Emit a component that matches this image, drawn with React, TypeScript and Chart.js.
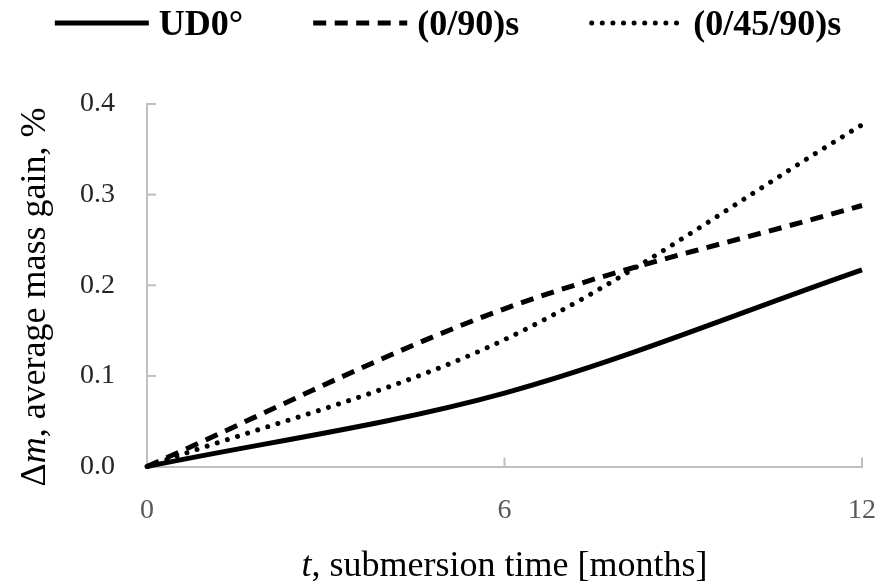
import React, { useEffect, useRef } from "react";
import { Chart, registerables } from "chart.js";

Chart.register(...registerables);

const months = [0, 6, 12];
const ud0 = [0, 0.081, 0.217];
const cp090 = [0, 0.174, 0.288];
const cp04590 = [0, 0.14, 0.377];
const seriesLabels = ["UD0°", "(0/90)s", "(0/45/90)s"];
const xTicks = [0, 6, 12];
const yTicks = [0, 0.1, 0.2, 0.3, 0.4];

const SERIF = "'Liberation Serif', 'DejaVu Serif', serif";
const AXIS_COLOR = "#bfbfbf";

const decorPlugin = {
  id: "decor",
  afterDatasetsDraw(chart: any) {
    const ctx = chart.ctx;
    const xs = chart.scales.x;
    const ys = chart.scales.y;
    const area = chart.chartArea;
    ctx.save();
    ctx.strokeStyle = AXIS_COLOR;
    ctx.lineWidth = 2;
    ctx.setLineDash([]);
    yTicks.forEach((v) => {
      if (v === 0) return;
      const y = ys.getPixelForValue(v);
      ctx.beginPath();
      ctx.moveTo(area.left, y);
      ctx.lineTo(area.left + 9, y);
      ctx.stroke();
    });
    xTicks.forEach((v) => {
      if (v === 0) return;
      const x = xs.getPixelForValue(v);
      ctx.beginPath();
      ctx.moveTo(x, area.bottom);
      ctx.lineTo(x, area.bottom - 9);
      ctx.stroke();
    });
    ctx.restore();
  },
  afterDraw(chart: any) {
    const ctx = chart.ctx;
    const area = chart.chartArea;
    ctx.save();
    ctx.fillStyle = "#000";
    ctx.textBaseline = "alphabetic";
    ctx.textAlign = "left";

    const drawSegments = (segs: [string, string][], cx: number, baseY: number) => {
      let total = 0;
      segs.forEach(([t, f]) => {
        ctx.font = f;
        total += ctx.measureText(t).width;
      });
      let x = cx - total / 2;
      segs.forEach(([t, f]) => {
        ctx.font = f;
        ctx.fillText(t, x, baseY);
        x += ctx.measureText(t).width;
      });
    };

    const normal = `36px ${SERIF}`;
    const italic = `italic 36px ${SERIF}`;

    // x title
    drawSegments(
      [
        ["t", italic],
        [", submersion time [months]", normal],
      ],
      (area.left + area.right) / 2,
      576
    );

    // y title
    ctx.save();
    ctx.translate(45, 297);
    ctx.rotate(-Math.PI / 2);
    drawSegments(
      [
        ["Δ", normal],
        ["m", italic],
        [", average mass gain, %", normal],
      ],
      0,
      0
    );
    ctx.restore();

    // legend
    const lineLen = 94;
    const gap = 10;
    const spacing = 70;
    ctx.font = `bold 36px ${SERIF}`;
    const datasets = chart.data.datasets;
    const widths = datasets.map((d: any) => lineLen + gap + ctx.measureText(d.label).width);
    const total = widths.reduce((a: number, b: number) => a + b, 0) + spacing * (datasets.length - 1);
    let x = 448 - total / 2;
    const ly = 23;
    datasets.forEach((d: any, i: number) => {
      ctx.save();
      ctx.strokeStyle = d.borderColor;
      ctx.lineWidth = d.borderWidth;
      ctx.lineCap = d.borderCapStyle || "butt";
      ctx.setLineDash(d.borderDash || []);
      ctx.beginPath();
      ctx.moveTo(x + (ctx.lineCap === "round" ? 2.5 : 0), ly);
      ctx.lineTo(x + lineLen, ly);
      ctx.stroke();
      ctx.restore();
      ctx.font = `bold 36px ${SERIF}`;
      ctx.fillStyle = "#000";
      ctx.fillText(d.label, x + lineLen + gap, 35);
      x += widths[i] + spacing;
    });
    ctx.restore();
  },
};

export default function App() {
  const canvasRef = useRef<HTMLCanvasElement | null>(null);

  useEffect(() => {
    if (!canvasRef.current) return;
    const toPoints = (ys: number[]) => months.map((m, i) => ({ x: m, y: ys[i] }));
    const chart = new Chart(canvasRef.current, {
      type: "line",
      data: {
        datasets: [
          {
            label: seriesLabels[0],
            data: toPoints(ud0),
            borderColor: "#000",
            borderWidth: 5,
            borderDash: [],
            pointRadius: 0,
            tension: 0.33,
            fill: false,
            clip: false,
          },
          {
            label: seriesLabels[1],
            data: toPoints(cp090),
            borderColor: "#000",
            borderWidth: 5,
            borderDash: [13, 8.5],
            borderCapStyle: "butt",
            pointRadius: 0,
            tension: 0.33,
            fill: false,
            clip: false,
          },
          {
            label: seriesLabels[2],
            data: toPoints(cp04590),
            borderColor: "#000",
            borderWidth: 5,
            borderDash: [0.001, 10.6],
            borderCapStyle: "round",
            pointRadius: 0,
            tension: 0.33,
            fill: false,
            clip: false,
          },
        ],
      } as any,
      options: {
        animation: false,
        responsive: true,
        maintainAspectRatio: false,
        layout: { padding: { top: 104, right: 18, left: 0, bottom: 0 } },
        plugins: {
          legend: { display: false },
          tooltip: { enabled: false },
          title: { display: false },
        },
        scales: {
          x: {
            type: "linear",
            min: 0,
            max: 12,
            afterBuildTicks: (scale: any) => {
              scale.ticks = xTicks.map((v) => ({ value: v }));
            },
            afterFit: (scale: any) => {
              scale.height = 118.5;
              scale.paddingLeft = 0;
              scale.paddingRight = 0;
            },
            ticks: {
              color: "#595959",
              font: { family: SERIF, size: 28 },
              padding: 27,
              maxRotation: 0,
              callback: (v: any) => String(v),
            },
            grid: { display: true, drawOnChartArea: false, drawTicks: false },
            border: { display: true, color: AXIS_COLOR, width: 2 },
          },
          y: {
            type: "linear",
            min: 0,
            max: 0.4,
            afterBuildTicks: (scale: any) => {
              scale.ticks = yTicks.map((v) => ({ value: v }));
            },
            afterFit: (scale: any) => {
              scale.width = 147;
              scale.paddingTop = 0;
              scale.paddingBottom = 0;
            },
            ticks: {
              color: "#262626",
              font: { family: SERIF, size: 28 },
              padding: 32,
              callback: (v: any) => Number(v).toFixed(1),
            },
            grid: { display: true, drawOnChartArea: false, drawTicks: false },
            border: { display: true, color: AXIS_COLOR, width: 2 },
          },
        },
      },
      plugins: [decorPlugin],
    } as any);
    return () => chart.destroy();
  }, []);

  return (
    <div style={{ position: "fixed", left: 0, top: 0, width: 880, height: 585, background: "#fff" }}>
      <canvas ref={canvasRef} style={{ display: "block" }} />
    </div>
  );
}
